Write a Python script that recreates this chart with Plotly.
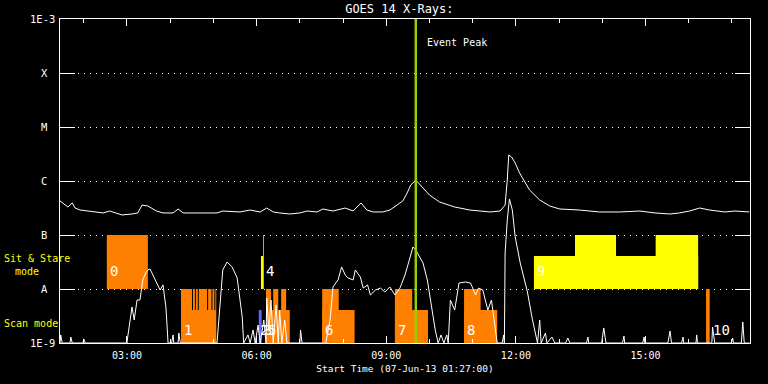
import math
import plotly.graph_objects as go

DAY = "2013-06-07 "
X_RANGE = ["01:27", "17:25"]

# ---- GOES 14 1-8 A flux (W/m^2) ----
goes_time = ["01:27","01:31","01:38","01:44","01:48","01:55","02:13","02:27","02:36","02:43",
             "02:53","03:07","03:15","03:21","03:29","03:41","03:50","04:04","04:11","04:18",
             "04:32","04:46","05:05","05:13","05:27","05:37","05:51","06:05","06:14","06:23",
             "06:32","06:46","07:00","07:10","07:24","07:32","07:46","08:03","08:14","08:25",
             "08:33","08:42","08:55","09:05","09:15","09:23","09:29","09:34","09:41","09:49",
             "10:00","10:14","10:35","10:56","11:24","11:38","11:45","11:48","11:50","11:54",
             "11:59","12:05","12:19","12:33","12:47","13:01","13:28","13:56","14:24","14:52",
             "15:13","15:34","15:47","16:01","16:15","16:29","16:50","17:04","17:24"]
goes_flux = [4.27e-7,3.92e-7,3.30e-7,3.92e-7,3.16e-7,2.90e-7,2.67e-7,2.56e-7,2.78e-7,2.56e-7,
             2.35e-7,2.45e-7,2.56e-7,3.59e-7,3.44e-7,2.78e-7,2.56e-7,2.56e-7,3.03e-7,2.56e-7,
             2.56e-7,2.56e-7,2.56e-7,2.78e-7,2.67e-7,2.67e-7,2.90e-7,2.67e-7,3.16e-7,2.67e-7,
             2.56e-7,2.45e-7,2.56e-7,2.78e-7,2.67e-7,3.03e-7,2.78e-7,3.16e-7,2.78e-7,3.92e-7,
             2.90e-7,2.67e-7,2.67e-7,2.90e-7,3.59e-7,4.27e-7,6.0e-7,8.43e-7,1.04e-6,8.1e-7,
             5.5e-7,4.08e-7,3.30e-7,2.90e-7,2.67e-7,2.78e-7,3.59e-7,1.04e-6,3.03e-6,2.78e-6,
             2.15e-6,1.41e-6,6.8e-7,4.45e-7,3.44e-7,3.03e-7,2.90e-7,2.67e-7,2.67e-7,2.78e-7,
             2.56e-7,2.45e-7,2.56e-7,2.78e-7,3.16e-7,2.90e-7,2.67e-7,2.78e-7,2.67e-7]

# ---- second (lower) light curve ----
lc_time = ["01:27","01:28","01:30","01:41","01:42","01:44","01:59","02:00","02:02","03:00",
           "03:01","03:04","03:07","03:10","03:14","03:18","03:22","03:26","03:29","03:32",
           "03:36","03:42","03:46","03:50","03:54","03:56","03:57","04:02","04:04","04:05",
           "04:11","04:12","04:14","05:05","05:09","05:12","05:13","05:19","05:26","05:33",
           "05:35","05:40","05:42","05:48","05:51","05:55","05:58","06:02","06:05","06:10",
           "06:13","06:14","06:17","06:20","06:23","06:27","06:30","06:32","06:35","06:39",
           "06:42","07:00","07:01","07:03","07:36","07:42","07:46","07:53","07:58","08:03",
           "08:07","08:14","08:17","08:24","08:28","08:34","08:38","08:45","08:52","08:58",
           "09:05","09:12","09:19","09:26","09:32","09:37","09:41","09:51","09:57","10:01",
           "10:08","10:12","10:16","10:20","10:24","10:26","10:29","10:35","10:41","10:50",
           "10:57","11:04","11:08","11:14","11:21","11:26","11:32","11:34","11:41","11:43",
           "11:44","11:45","11:48","11:51","11:55","11:59","12:06","12:16","12:23","12:27",
           "12:30","12:33","12:35","12:41","12:43","12:50","12:54","13:09","13:12","13:15",
           "13:38","13:40","13:41","13:59","14:02","14:05","14:28","14:30","14:31","14:56",
           "14:58","14:59","15:31","15:34","15:36","15:50","15:52","15:53","16:10","16:11",
           "16:12","16:32","16:33","16:36","16:59","17:01","17:02","17:13","17:15","17:17",
           "17:24"]
lc_flux = [1e-9,1.41e-9,1e-9,1e-9,1.29e-9,1e-9,1e-9,1.19e-9,1e-9,1e-9,
           1.29e-9,2.67e-9,4.64e-9,2.67e-9,6.25e-9,6.25e-9,1.47e-8,1.98e-8,2.25e-8,2.35e-8,
           1.82e-8,1.29e-8,9.58e-9,1.19e-8,4.64e-9,1.74e-9,1e-9,1e-9,1.41e-9,1e-9,
           1e-9,1.53e-9,1e-9,1e-9,4.08e-9,1.47e-8,2.25e-8,3.16e-8,2.56e-8,1.6e-8,
           1.04e-8,3.03e-9,1e-9,1.41e-9,1e-9,1.74e-9,1e-9,2.15e-9,1e-9,2.67e-9,
           1e-9,6.8e-9,1.74e-9,6.25e-9,1e-9,5.06e-9,1e-9,4.08e-9,1e-9,2.67e-9,
           1e-9,1e-9,1.74e-9,1e-9,1e-9,2.67e-9,1.09e-8,1.47e-8,2.56e-8,1.82e-8,
           1.6e-8,1.47e-8,2.25e-8,1.67e-8,1.04e-8,1.19e-8,7.74e-9,9.58e-9,1.04e-8,8.8e-9,
           1.09e-8,7.74e-9,1.04e-8,1.82e-8,3.44e-8,6.0e-8,5.27e-8,3.03e-8,1.47e-8,6.25e-9,
           1.74e-9,1e-9,1.41e-9,1e-9,1.41e-9,1e-9,6.25e-9,4.08e-9,1.29e-8,1.35e-8,
           1.29e-8,7.74e-9,1.04e-8,9.58e-9,4.08e-9,6.25e-9,1.74e-9,1e-9,1e-9,1.41e-9,
           1e-9,4.64e-8,1.9e-7,4.64e-7,2.9e-7,9.18e-8,3.03e-8,8.8e-9,2.67e-9,1.41e-9,
           1e-9,2.67e-9,1e-9,1.53e-9,1e-9,1.29e-9,1e-9,1e-9,1.24e-9,1e-9,
           1e-9,1.29e-9,1e-9,1e-9,1.9e-9,1e-9,1e-9,1.35e-9,1e-9,1e-9,
           1.29e-9,1e-9,1e-9,1.67e-9,1e-9,1e-9,1.29e-9,1e-9,1e-9,1.41e-9,
           1e-9,1e-9,1.98e-9,1e-9,1e-9,1.24e-9,1e-9,1e-9,2.45e-9,1e-9,
           1e-9]
assert len(lc_time) == len(lc_flux) and len(goes_time) == len(goes_flux)

# ---- observation blocks ----
obs_start = ["02:32","04:15","06:03","06:06","06:09","06:13","06:13","06:23","06:34","07:31",
             "07:31","09:12","09:12","10:48","10:48","12:25","13:22","15:14","16:24"]
obs_end   = ["03:29","05:04","06:07","06:09","06:10","06:46","06:20","06:30","06:41","08:16",
             "07:54","09:58","09:36","11:34","11:11","16:13","14:19","16:13","16:29"]
obs_mode  = ["sas","scan","scan","sas","sas","scan","scan","scan","scan","scan",
             "scan","scan","scan","scan","scan","sas","sas","sas","scan"]
obs_level = ["full","full","part","part","full","part","full","full","full","part",
             "full","part","full","part","full","part","full","full","full"]
obs_color = ["#ff8000","#ff8000","#6464ff","#ffff00","#ffff00","#ff8000","#ff8000","#ff8000",
             "#ff8000","#ff8000","#ff8000","#ff8000","#ff8000","#ff8000","#ff8000","#ffff00",
             "#ffff00","#ffff00","#ff8000"]
gap_times = ["04:31","04:35","04:39","04:52","04:58","05:02"]

label_text = ["0","1","2","3","4","5","6","7","8","9","10"]
label_time = ["02:33","04:16","06:02","06:07","06:10","06:13","07:32","09:13","10:49","12:26","16:31"]
label_mode = ["sas","scan","scan","scan","sas","scan","scan","scan","scan","sas","scan"]

band_bottom = {"scan": 1e-9, "sas": 1e-8}
level_frac = {"full": 1.0, "part": 0.61}

event_peak = "09:41"

y_levels = [1e-9, 1e-8, 1e-7, 1e-6, 1e-5, 1e-4, 1e-3]
y_names = ["1E-9", "A", "B", "C", "M", "X", "1E-3"]

FONT = "DejaVu Sans Mono"

def T(s):
    return DAY + s

fig = go.Figure()

for s, e, m, lv, c in zip(obs_start, obs_end, obs_mode, obs_level, obs_color):
    b = band_bottom[m]
    t = b * 10 ** level_frac[lv]
    fig.add_trace(go.Scatter(x=[T(s), T(e), T(e), T(s), T(s)], y=[b, b, t, t, b],
                             mode="lines", fill="toself", fillcolor=c,
                             line=dict(width=0, color=c), hoverinfo="skip", showlegend=False))

gx, gy = [], []
for g in gap_times:
    gx += [T(g), T(g), None]
    gy += [band_bottom["scan"] * 10 ** level_frac["part"], band_bottom["scan"] * 10, None]
fig.add_trace(go.Scatter(x=gx, y=gy, mode="lines", line=dict(color="black", width=1),
                         hoverinfo="skip", showlegend=False))

fig.add_trace(go.Scatter(x=[T(t) for t in lc_time], y=lc_flux, mode="lines",
                         line=dict(color="white", width=1), showlegend=False))
fig.add_trace(go.Scatter(x=[T(t) for t in goes_time], y=goes_flux, mode="lines",
                         line=dict(color="white", width=1), showlegend=False))

annotations = []
label_y = {"scan": math.log10(1.74e-9), "sas": math.log10(2.2e-8)}
for txt, t, m in zip(label_text, label_time, label_mode):
    annotations.append(dict(x=T(t), y=label_y[m], xref="x", yref="y", text=txt,
                            showarrow=False, xanchor="left", yanchor="middle",
                            font=dict(family=FONT, size=14, color="white")))

for v, n in zip(y_levels, y_names):
    if n.startswith("1E"):
        annotations.append(dict(x=0, y=math.log10(v), xref="paper", yref="y", text=n,
                                showarrow=False, xanchor="right", yanchor="middle", xshift=-3,
                                font=dict(family=FONT, size=10.5, color="white")))
    else:
        annotations.append(dict(x=0, y=math.log10(v), xref="paper", yref="y", text=n,
                                showarrow=False, xanchor="center", yanchor="middle", xshift=-16,
                                font=dict(family=FONT, size=10.5, color="white")))

annotations += [
    dict(x=0, y=math.log10(3.75e-8), xref="paper", yref="y", text="Sit & Stare", showarrow=False,
         xanchor="left", yanchor="middle", xshift=-58,
         font=dict(family=FONT, size=10, color="#ffff00")),
    dict(x=0, y=math.log10(2.15e-8), xref="paper", yref="y", text="mode", showarrow=False,
         xanchor="left", yanchor="middle", xshift=-47,
         font=dict(family=FONT, size=10, color="#ffff00")),
    dict(x=0, y=math.log10(2.25e-9), xref="paper", yref="y", text="Scan mode", showarrow=False,
         xanchor="left", yanchor="middle", xshift=-58,
         font=dict(family=FONT, size=10, color="#ffff00")),
    dict(x=T(event_peak), y=0.926, xref="x", yref="paper", text="Event Peak", showarrow=False,
         xanchor="left", yanchor="middle", xshift=9,
         font=dict(family=FONT, size=10, color="white")),
]

fig.add_shape(type="line", x0=T(event_peak), x1=T(event_peak), y0=0, y1=1,
              xref="x", yref="paper", line=dict(color="#9acd00", width=2.5), layer="above")

fig.update_layout(
    width=768, height=384,
    paper_bgcolor="black", plot_bgcolor="black",
    margin=dict(l=60, r=18, t=19, b=41),
    font=dict(family=FONT, color="white", size=10),
    title=dict(text="GOES 14 X-Rays:", x=0.52, xanchor="center", y=0.977, yanchor="middle",
               font=dict(family=FONT, size=12, color="white")),
    annotations=annotations,
    showlegend=False,
)
fig.update_xaxes(
    type="date", range=[T(X_RANGE[0]), T(X_RANGE[1])],
    tick0=DAY + "00:00", dtick=3 * 3600000, tickformat="%H:%M",
    ticks="inside", ticklen=7, tickcolor="white", tickwidth=1,
    minor=dict(dtick=3600000, tick0=DAY + "00:00", ticks="inside", ticklen=4, tickcolor="white"),
    showline=True, linecolor="white", linewidth=1, mirror="ticks",
    showgrid=False, zeroline=False, ticklabelstandoff=3,
    tickfont=dict(family=FONT, size=10, color="white"),
    title=dict(text="Start Time (07-Jun-13 01:27:00)", standoff=5,
               font=dict(family=FONT, size=9.5, color="white")),
)
fig.update_yaxes(
    type="log", range=[-9, -3], tickvals=y_levels, showticklabels=False,
    ticks="inside", ticklen=15, tickcolor="white", tickwidth=1,
    showline=True, linecolor="white", linewidth=1, mirror="ticks",
    showgrid=True, gridcolor="white", gridwidth=1, griddash="1px,5px", zeroline=False,
)

fig.write_html("out.html", config={"displayModeBar": False},
               post_script="document.body.style.margin='0';document.body.style.background='black';")
